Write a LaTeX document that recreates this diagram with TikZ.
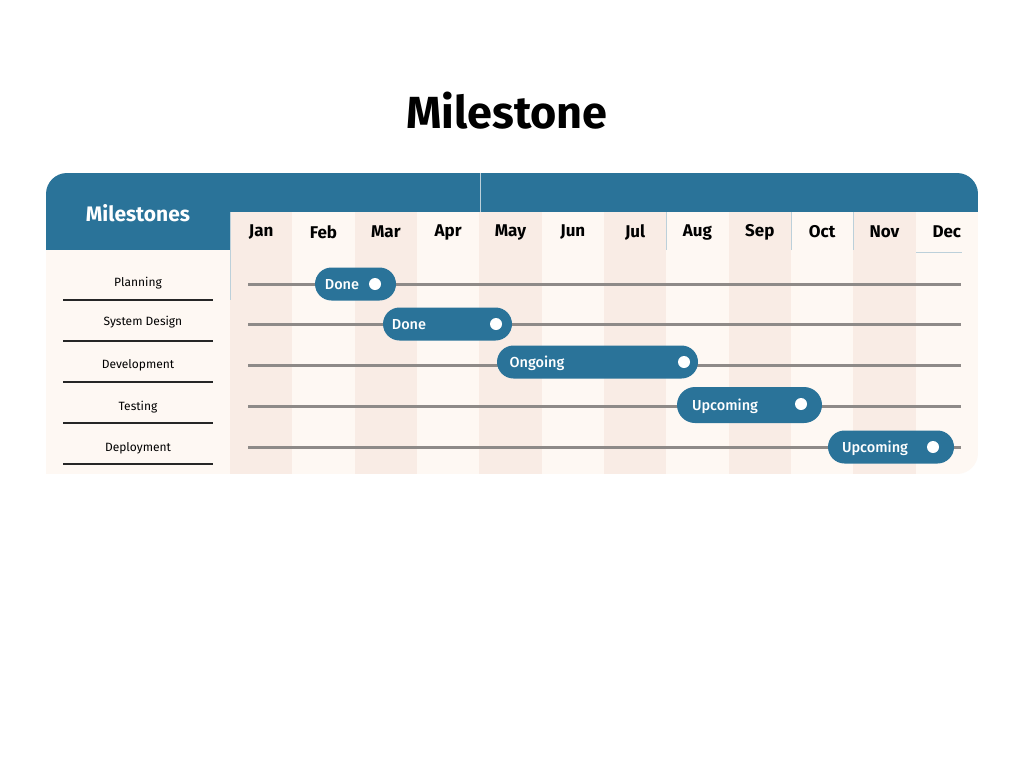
\documentclass[tikz,border=0pt]{standalone}
\usepackage{fontspec}
\setmainfont{Fira Sans}
\newfontfamily\medfont{Fira Sans Medium}
\definecolor{hblue}{HTML}{2A7399}
\definecolor{cream}{HTML}{FEF8F3}
\definecolor{colshade}{HTML}{F9ECE5}
\definecolor{track}{HTML}{8E8A88}
\definecolor{sepl}{HTML}{BCD0DA}
\tikzset{
  track/.style={draw=track, line width=3pt},
  pill/.style={fill=hblue, draw=none, rounded corners=16.5pt, minimum height=33pt, inner sep=0pt},
  pilltext/.style={text=white, font=\medfont\fontsize{14.5}{16}\selectfont, inner sep=0pt},
  dot/.style={circle, fill=white, minimum size=12pt, inner sep=0pt},
  month/.style={font=\bfseries\fontsize{17}{19}\selectfont, text=black, inner sep=0pt},
  rowlabel/.style={font=\fontsize{12}{14}\selectfont, text=black, inner sep=0pt},
  sep/.style={draw=black!85, line width=1.3pt},
  faint/.style={draw=sepl, line width=0.8pt}
}
\begin{document}
\begin{tikzpicture}[x=1pt,y=-1pt]
\useasboundingbox[fill=white] (0,0) rectangle (1024,768);
% title
\node[font=\bfseries\fontsize{45}{50}\selectfont, inner sep=0pt] (title) at (507,111) {Milestone};
% panel
\begin{scope}
  \clip[rounded corners=21pt] (46,173) rectangle (978,474);
  \fill[cream] (46,173) rectangle (978,474);
  \foreach \i in {0,2,4,6,8,10} {
    \fill[colshade] ({230+\i*62.33},212) rectangle ({230+(\i+1)*62.33},474);
  }
  \fill[hblue] (46,173) rectangle (978,212);
  \fill[hblue] (46,212) rectangle (230,250);
\end{scope}
\fill[cream] (46,450) rectangle (70,474);
% faint separators
\draw[faint] (480,173) -- (480,212);
\draw[faint] (230,212) -- (230,300);
\draw[faint] (666,212) -- (666,250);
\draw[faint] (791,212) -- (791,250);
\draw[faint] (853,212) -- (853,250);
\draw[faint] (916,252) -- (962,252);
% header texts
\node[font=\bfseries\fontsize{21}{24}\selectfont, text=white, inner sep=0pt] (hdr) at (138,213) {Milestones};
\foreach \m [count=\k from 0] in {Jan,Feb,Mar,Apr,May,Jun,Jul,Aug,Sep,Oct,Nov,Dec} {
  \node[month] (m\k) at ({230+(\k+0.5)*62.33},232) {\m};
}
% row labels and separators
\node[rowlabel] (l1) at (138,283) {Planning};
\node[rowlabel] (l2) at (143,322) {System Design};
\node[rowlabel] (l3) at (138,365) {Development};
\node[rowlabel] (l4) at (138,407) {Testing};
\node[rowlabel] (l5) at (138,448) {Deployment};
\foreach \y [count=\k] in {300,341,382,423,464} {
  \coordinate (sa\k) at (63,\y);
  \coordinate (sb\k) at (213,\y);
  \draw[sep] (sa\k) -- (sb\k);
}
% tracks
\foreach \y [count=\k] in {284,324,365,406,447} {
  \coordinate (ta\k) at (248,\y);
  \coordinate (tb\k) at (961,\y);
  \draw[track] (ta\k) -- (tb\k);
}
% pills
\node[pill, minimum width=81pt] (p1) at (355.5,284) {};
\node[pilltext] (t1) at (342,285) {Done};
\node[dot] (d1) at (375,284) {};
\node[pill, minimum width=129pt] (p2) at (447.5,324) {};
\node[pilltext] (t2) at (409,325) {Done};
\node[dot] (d2) at (496,324) {};
\node[pill, minimum width=201pt] (p3) at (597.5,362) {};
\node[pilltext] (t3) at (537,363) {Ongoing};
\node[dot] (d3) at (684,362) {};
\node[pill, minimum width=145pt, minimum height=36pt, rounded corners=18pt] (p4) at (749.5,405) {};
\node[pilltext] (t4) at (725,406) {Upcoming};
\node[dot] (d4) at (801,404) {};
\node[pill, minimum width=126pt] (p5) at (891,447) {};
\node[pilltext] (t5) at (875,448) {Upcoming};
\node[dot] (d5) at (933,447) {};
\end{tikzpicture}
\end{document}
